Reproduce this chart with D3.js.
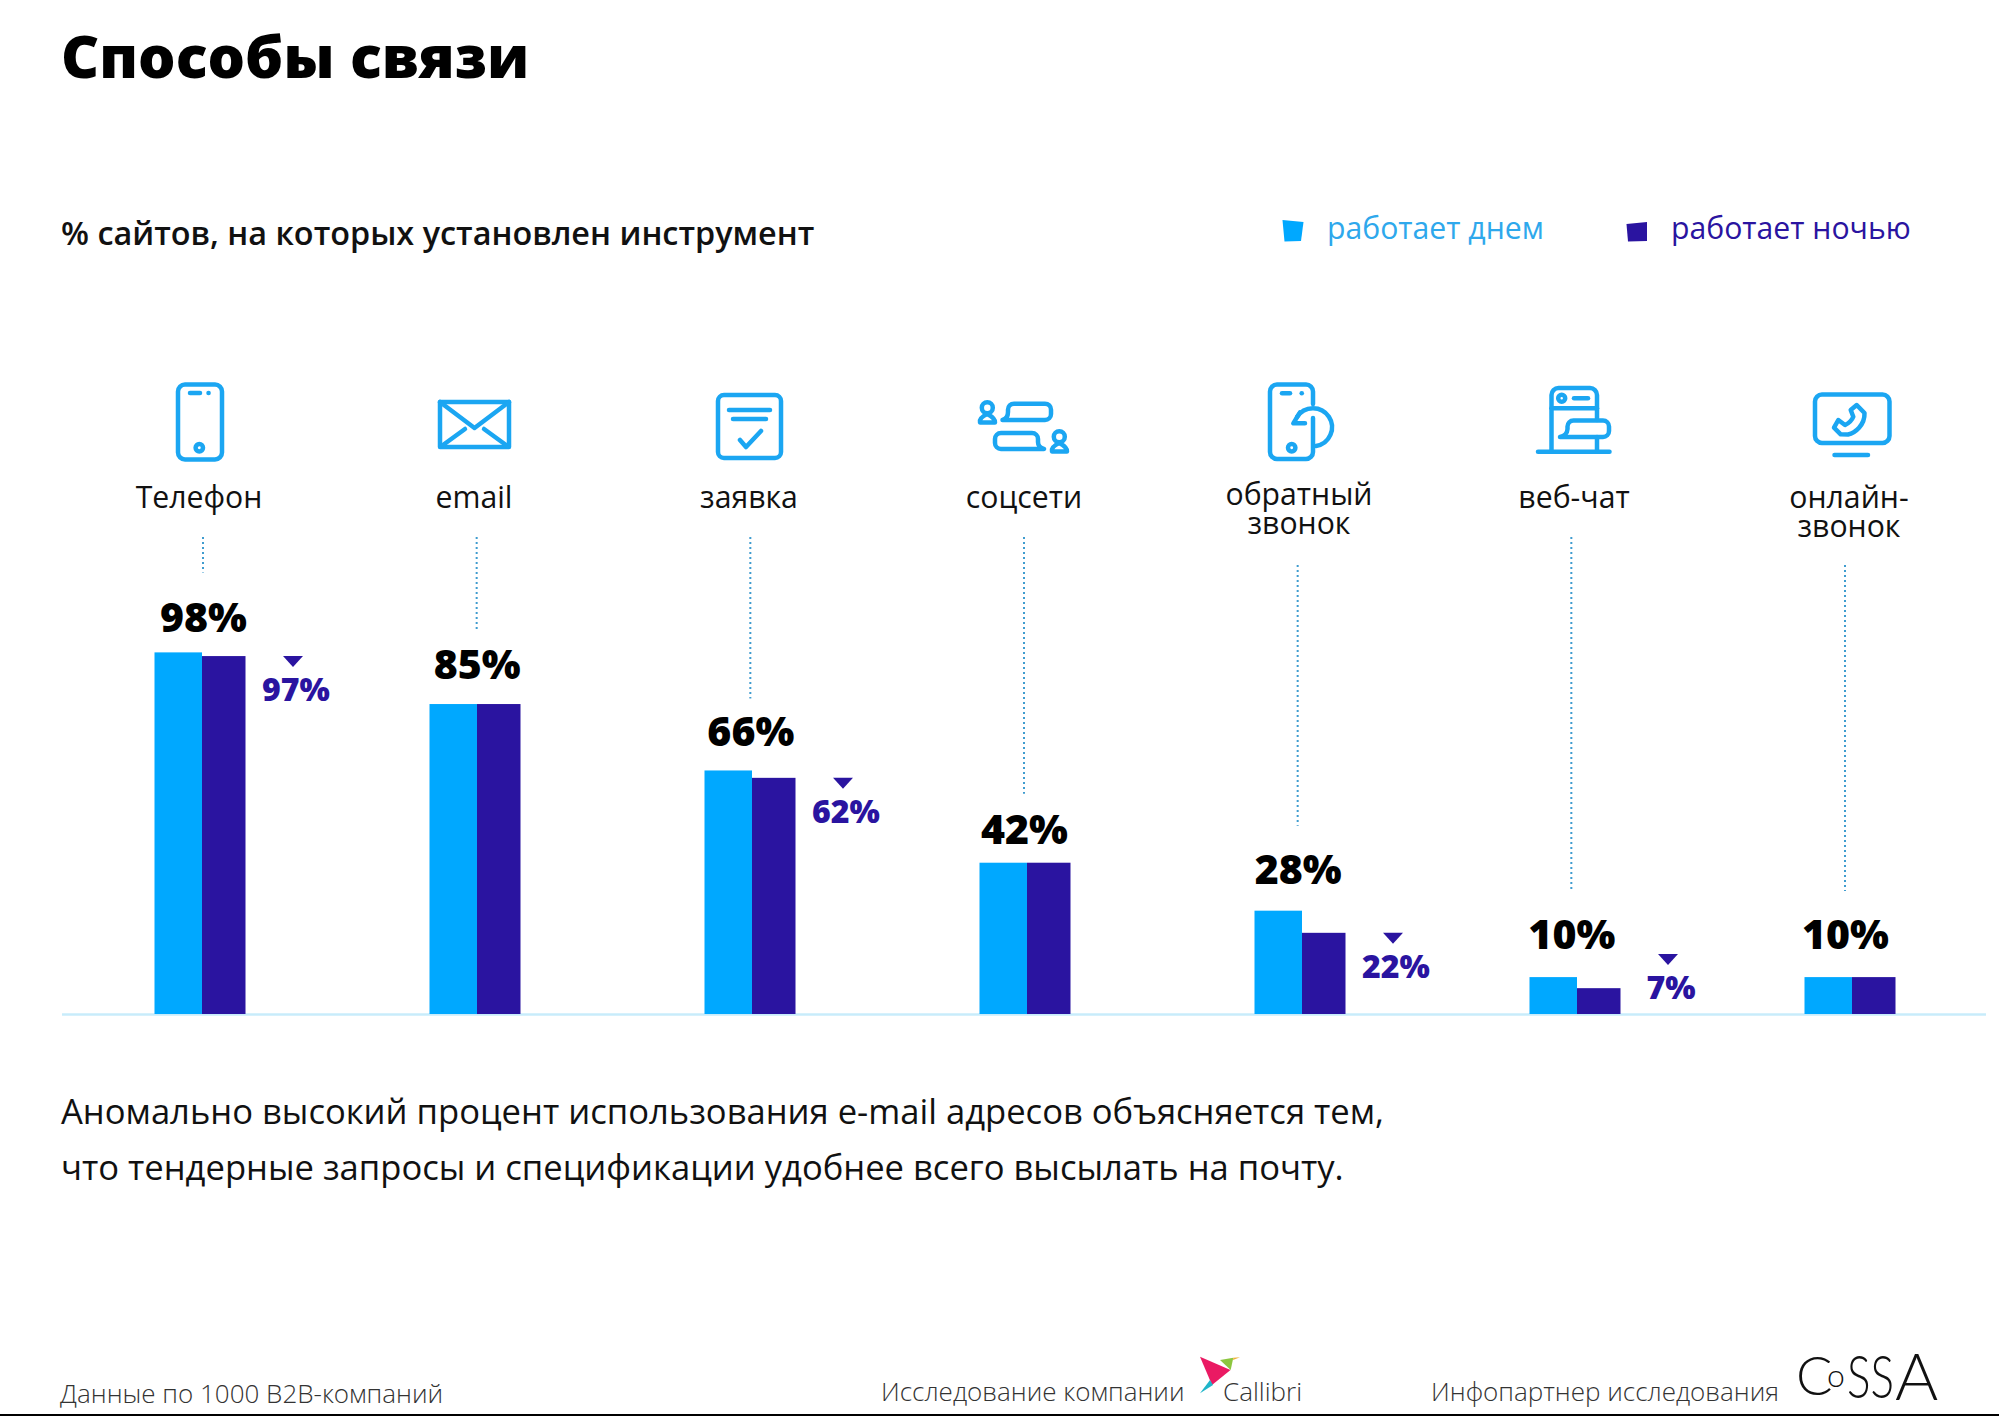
<!DOCTYPE html>
<html>
<head>
<meta charset="utf-8">
<script src="https://cdnjs.cloudflare.com/ajax/libs/d3/7.8.5/d3.min.js"></script>
<style>
  html, body { margin: 0; padding: 0; background: #fff; }
  svg { display: block; }
  text { font-family: "Open Sans", sans-serif; }
  .icon * { fill: none; stroke: #1ba6f2; stroke-width: 4.5; stroke-linecap: round; stroke-linejoin: round; }
</style>
</head>
<body>
<svg width="1999" height="1416"></svg>
<script>
const categories = ['Телефон', 'email', 'заявка', 'соцсети', 'обратный звонок', 'веб-чат', 'онлайн-звонок'];
const categoryLines = [['Телефон'], ['email'], ['заявка'], ['соцсети'], ['обратный', 'звонок'], ['веб-чат'], ['онлайн-', 'звонок']];

// bar heights as drawn in the picture (they differ slightly from the printed numbers)
const dayValues = [98, 84, 66, 41, 28, 10, 10];
const nightValues = [97, 84, 64, 41, 22, 7, 10];

// printed numbers
const dayLabels = [98, 85, 66, 42, 28, 10, 10];
const nightLabels = [97, null, 62, null, 22, 7, null];

const legendItems = ['работает днем', 'работает ночью'];

// small layout nudges per column
const labelLift = [20, 25, 24, 19, 27, 28, 28];
const leaderGap = [60, 50, 48, 50, 58, 60, 58];
const labelTop = [508, 508, 508, 508, 505, 508, 508];

const dayColor = '#00a8ff';
const nightColor = '#2a14a0';

let svg = d3.select('svg');

let baseY = 1014;
let y = d3.scaleLinear().domain([0, 100]).range([baseY, baseY - 369]);

let barX = d3.scalePoint().domain(categories).range([202, 1852]);
let leaderX = d3.scalePoint().domain(categories).range([203, 1845]);
let labelX = d3.scalePoint().domain(categories).range([199, 1849]);

let dayWidth = 47.5, nightWidth = 43.5;

//Titles
svg.append('text').attr('x', 61).attr('y', 78)
  .style('font-size', '59px').style('font-weight', 800).text('Способы связи');
svg.append('text').attr('x', 61).attr('y', 245)
  .style('font-size', '32.4px').style('font-weight', 600).style('fill', '#111')
  .text('% сайтов, на которых установлен инструмент');

//Legend
svg.append('polygon').attr('points', '1282.5,220 1303.5,222 1301,241 1284.5,241.5').style('fill', dayColor);
svg.append('polygon').attr('points', '1626.5,224 1647,222 1647,241 1628,241.5').style('fill', nightColor);
svg.append('text').attr('x', 1327).attr('y', 239)
  .style('font-size', '30.2px').style('fill', '#2ea8ec').text(legendItems[0]);
svg.append('text').attr('x', 1671).attr('y', 239)
  .style('font-size', '30.2px').style('fill', nightColor).text(legendItems[1]);

//Category labels
categories.forEach((c, i) => {
  let label = svg.append('text')
    .attr('text-anchor', 'middle')
    .style('font-size', '30.2px')
    .style('fill', '#111');
  categoryLines[i].forEach((line, j) => {
    label.append('tspan')
      .attr('x', labelX(c))
      .attr('y', labelTop[i] + j * 29)
      .text(line);
  });
});

//Leaders
svg.append('g').selectAll('line')
  .data(categories)
  .enter()
  .append('line')
  .attr('x1', d => leaderX(d))
  .attr('x2', d => leaderX(d))
  .attr('y1', (d, i) => categoryLines[i].length > 1 ? 565 : 537)
  .attr('y2', (d, i) => y(dayValues[i]) - labelLift[i] - leaderGap[i])
  .style('stroke', '#3f9ccf')
  .style('stroke-width', 2)
  .style('stroke-dasharray', '2,3');

//Axis line
svg.append('line')
  .attr('x1', 62).attr('x2', 1986).attr('y1', baseY + 0.5).attr('y2', baseY + 0.5)
  .style('stroke', '#c8ecfb').style('stroke-width', 2.5);

//Bars
svg.append('g').selectAll('rect')
  .data(categories)
  .enter()
  .append('rect')
  .attr('x', d => barX(d) - dayWidth)
  .attr('width', dayWidth)
  .attr('y', (d, i) => y(dayValues[i]))
  .attr('height', (d, i) => baseY - y(dayValues[i]))
  .style('fill', dayColor);

svg.append('g').selectAll('rect')
  .data(categories)
  .enter()
  .append('rect')
  .attr('x', d => barX(d))
  .attr('width', nightWidth)
  .attr('y', (d, i) => y(nightValues[i]))
  .attr('height', (d, i) => baseY - y(nightValues[i]))
  .style('fill', nightColor);

//Day labels
svg.append('g').selectAll('text')
  .data(categories)
  .enter()
  .append('text')
  .attr('x', d => leaderX(d) + 0.5)
  .attr('y', (d, i) => y(dayValues[i]) - labelLift[i])
  .attr('text-anchor', 'middle')
  .style('font-size', '41px')
  .style('font-weight', 800)
  .style('fill', '#000')
  .text((d, i) => dayLabels[i] + '%');

//Night labels with triangle
categories.forEach((c, i) => {
  if (nightLabels[i] === null) return;
  let triTop = Math.min(y(nightValues[i]), baseY - 60);
  let cx = barX(c) + 91;
  svg.append('path')
    .attr('d', `M${cx - 10},${triTop}L${cx + 10},${triTop}L${cx},${triTop + 11}Z`)
    .style('fill', nightColor);
  svg.append('text')
    .attr('x', barX(c) + 94)
    .attr('y', triTop + 45)
    .attr('text-anchor', 'middle')
    .style('font-size', '32px')
    .style('font-weight', 800)
    .style('fill', nightColor)
    .text(nightLabels[i] + '%');
});

//Icons, drawn around the column label position
let iconPaths = [
  // phone
  ['M-14,384.5H16a7,7 0 0 1 7,7V452.5a7,7 0 0 1 -7,7H-14a7,7 0 0 1 -7,-7V391.5a7,7 0 0 1 7,-7Z',
    'M-9,393H1', 'M9.5,393h.1', 'M-3.4,447.7a3.7,3.7 0 1 0 7.4,0a3.7,3.7 0 1 0 -7.4,0Z'],
  // envelope
  ['M-34,402H35V447H-34Z', 'M-34,402L0.5,428L35,402', 'M-31,445L-9,429', 'M32,445L10,429'],
  // form
  ['M-25,395H26a6,6 0 0 1 6,6V452a6,6 0 0 1 -6,6H-25a6,6 0 0 1 -6,-6V401a6,6 0 0 1 6,-6Z',
    'M-20,410H21', 'M-16,419H17', 'M-9,440L-3,447L12,431'],
  // social
  ['M-42.2,407.7a5.5,5.5 0 1 0 11,0a5.5,5.5 0 1 0 -11,0Z',
    'M-36.7,414C-41,416 -45,419 -44,422.5H-29C-28.5,419 -33,416 -36.7,414Z',
    'M-10,403.7H21a6,6 0 0 1 6,6V414a6,6 0 0 1 -6,6H-21.5C-18,419 -16,416 -16,412V409.7a6,6 0 0 1 6,-6Z',
    'M-23,433H8a6,6 0 0 1 6,6V442C14,445 16,448 20,449H-23a6,6 0 0 1 -6,-6V439a6,6 0 0 1 6,-6Z',
    'M29.8,436.7a5.5,5.5 0 1 0 11,0a5.5,5.5 0 1 0 -11,0Z',
    'M35.3,443C31,445 27,448 28,451.5H43C43.5,448 39,445 35.3,443Z'],
  // callback phone
  ['M14,404V391.5a7,7 0 0 0 -7,-7H-22a7,7 0 0 0 -7,7V452a7,7 0 0 0 7,7H7a7,7 0 0 0 7,-7V418',
    'M-17,393.3H-9', 'M2.7,393.3h.1', 'M-11,447.7a3.7,3.7 0 1 0 7.4,0a3.7,3.7 0 1 0 -7.4,0Z',
    'M-2,417A19,19 0 1 1 17,446', 'M1,412.3L-5.7,423.3H6'],
  // web chat
  ['M-22.5,451.7V395a7,7 0 0 1 7,-7H16a7,7 0 0 1 7,7V420', 'M-22.5,408.3H23', 'M23,437V451.7',
    'M-15.8,398.3a3.5,3.5 0 1 0 7,0a3.5,3.5 0 1 0 -7,0Z', 'M0,398.3H14', 'M-36,451.7H35.5',
    'M-0.5,420.5H29a6,6 0 0 1 6,6V431a6,6 0 0 1 -6,6H-14C-10,436 -6.5,433 -6.5,429V426.5a6,6 0 0 1 6,-6Z'],
  // monitor with handset
  ['M-27,394.5H33.5a7,7 0 0 1 7,7V436a7,7 0 0 1 -7,7H-27a7,7 0 0 1 -7,-7V401.5a7,7 0 0 1 7,-7Z',
    'M-14.5,455H19',
    'M7.7,405L15.5,413C16,425 6,433 -1,434.5L-8.3,434.3L-15,427.7L-10.7,420L-4,425C0,423 3,420 4.3,416.7L1.7,410Z']
];

categories.forEach((c, i) => {
  svg.append('g')
    .attr('class', 'icon')
    .attr('transform', `translate(${labelX(c)},0)`)
    .selectAll('path')
    .data(iconPaths[i])
    .enter()
    .append('path')
    .attr('d', d => d);
});

//Comment under the chart
svg.append('text').attr('x', 61).attr('y', 1124)
  .style('font-size', '34.6px').style('fill', '#111')
  .text('Аномально высокий процент использования e-mail адресов объясняется тем,');
svg.append('text').attr('x', 61).attr('y', 1180)
  .style('font-size', '34.6px').style('fill', '#111')
  .text('что тендерные запросы и спецификации удобнее всего высылать на почту.');

//Footer
let footer = [
  ['Данные по 1000 B2B-компаний', 60, 1403],
  ['Исследование компании', 881, 1401],
  ['Callibri', 1223, 1401],
  ['Инфопартнер исследования', 1431, 1401]
];
svg.append('g').selectAll('text')
  .data(footer)
  .enter()
  .append('text')
  .attr('x', d => d[1])
  .attr('y', d => d[2])
  .style('font-size', '26px')
  .style('font-weight', 300)
  .style('fill', '#333')
  .text(d => d[0]);

//Callibri bird
svg.append('polygon').attr('points', '1200,1356.7 1230.5,1370 1212,1385').style('fill', '#ea1a63');
svg.append('polygon').attr('points', '1220,1360 1233.3,1357.7 1230.7,1370').style('fill', '#8cc63f');
svg.append('polygon').attr('points', '1233.3,1357.7 1240,1357.3 1233,1360').style('fill', '#f0b23c');
svg.append('polygon').attr('points', '1210,1380 1213,1385 1200,1393.3').style('fill', '#1fb5c9');

//COSSA wordmark
let cossa = svg.append('text').style('fill', '#111')
  .style('font-family', 'Lato, sans-serif').style('font-weight', 300);
cossa.append('tspan').attr('x', 1796).attr('y', 1395).style('font-size', '54px').text('C');
cossa.append('tspan').attr('x', 1827).attr('y', 1387).style('font-size', '32px').text('o');
cossa.append('tspan').attr('x', 1847).attr('y', 1398).style('font-size', '60px')
  .attr('textLength', 47).attr('lengthAdjust', 'spacingAndGlyphs').text('SS');
cossa.append('tspan').attr('x', 1895).attr('y', 1400).style('font-size', '66px').text('A');

//Bottom edge
svg.append('line').attr('x1', 0).attr('x2', 1999).attr('y1', 1415).attr('y2', 1415)
  .style('stroke', '#000').style('stroke-width', 2);
</script>
</body>
</html>
